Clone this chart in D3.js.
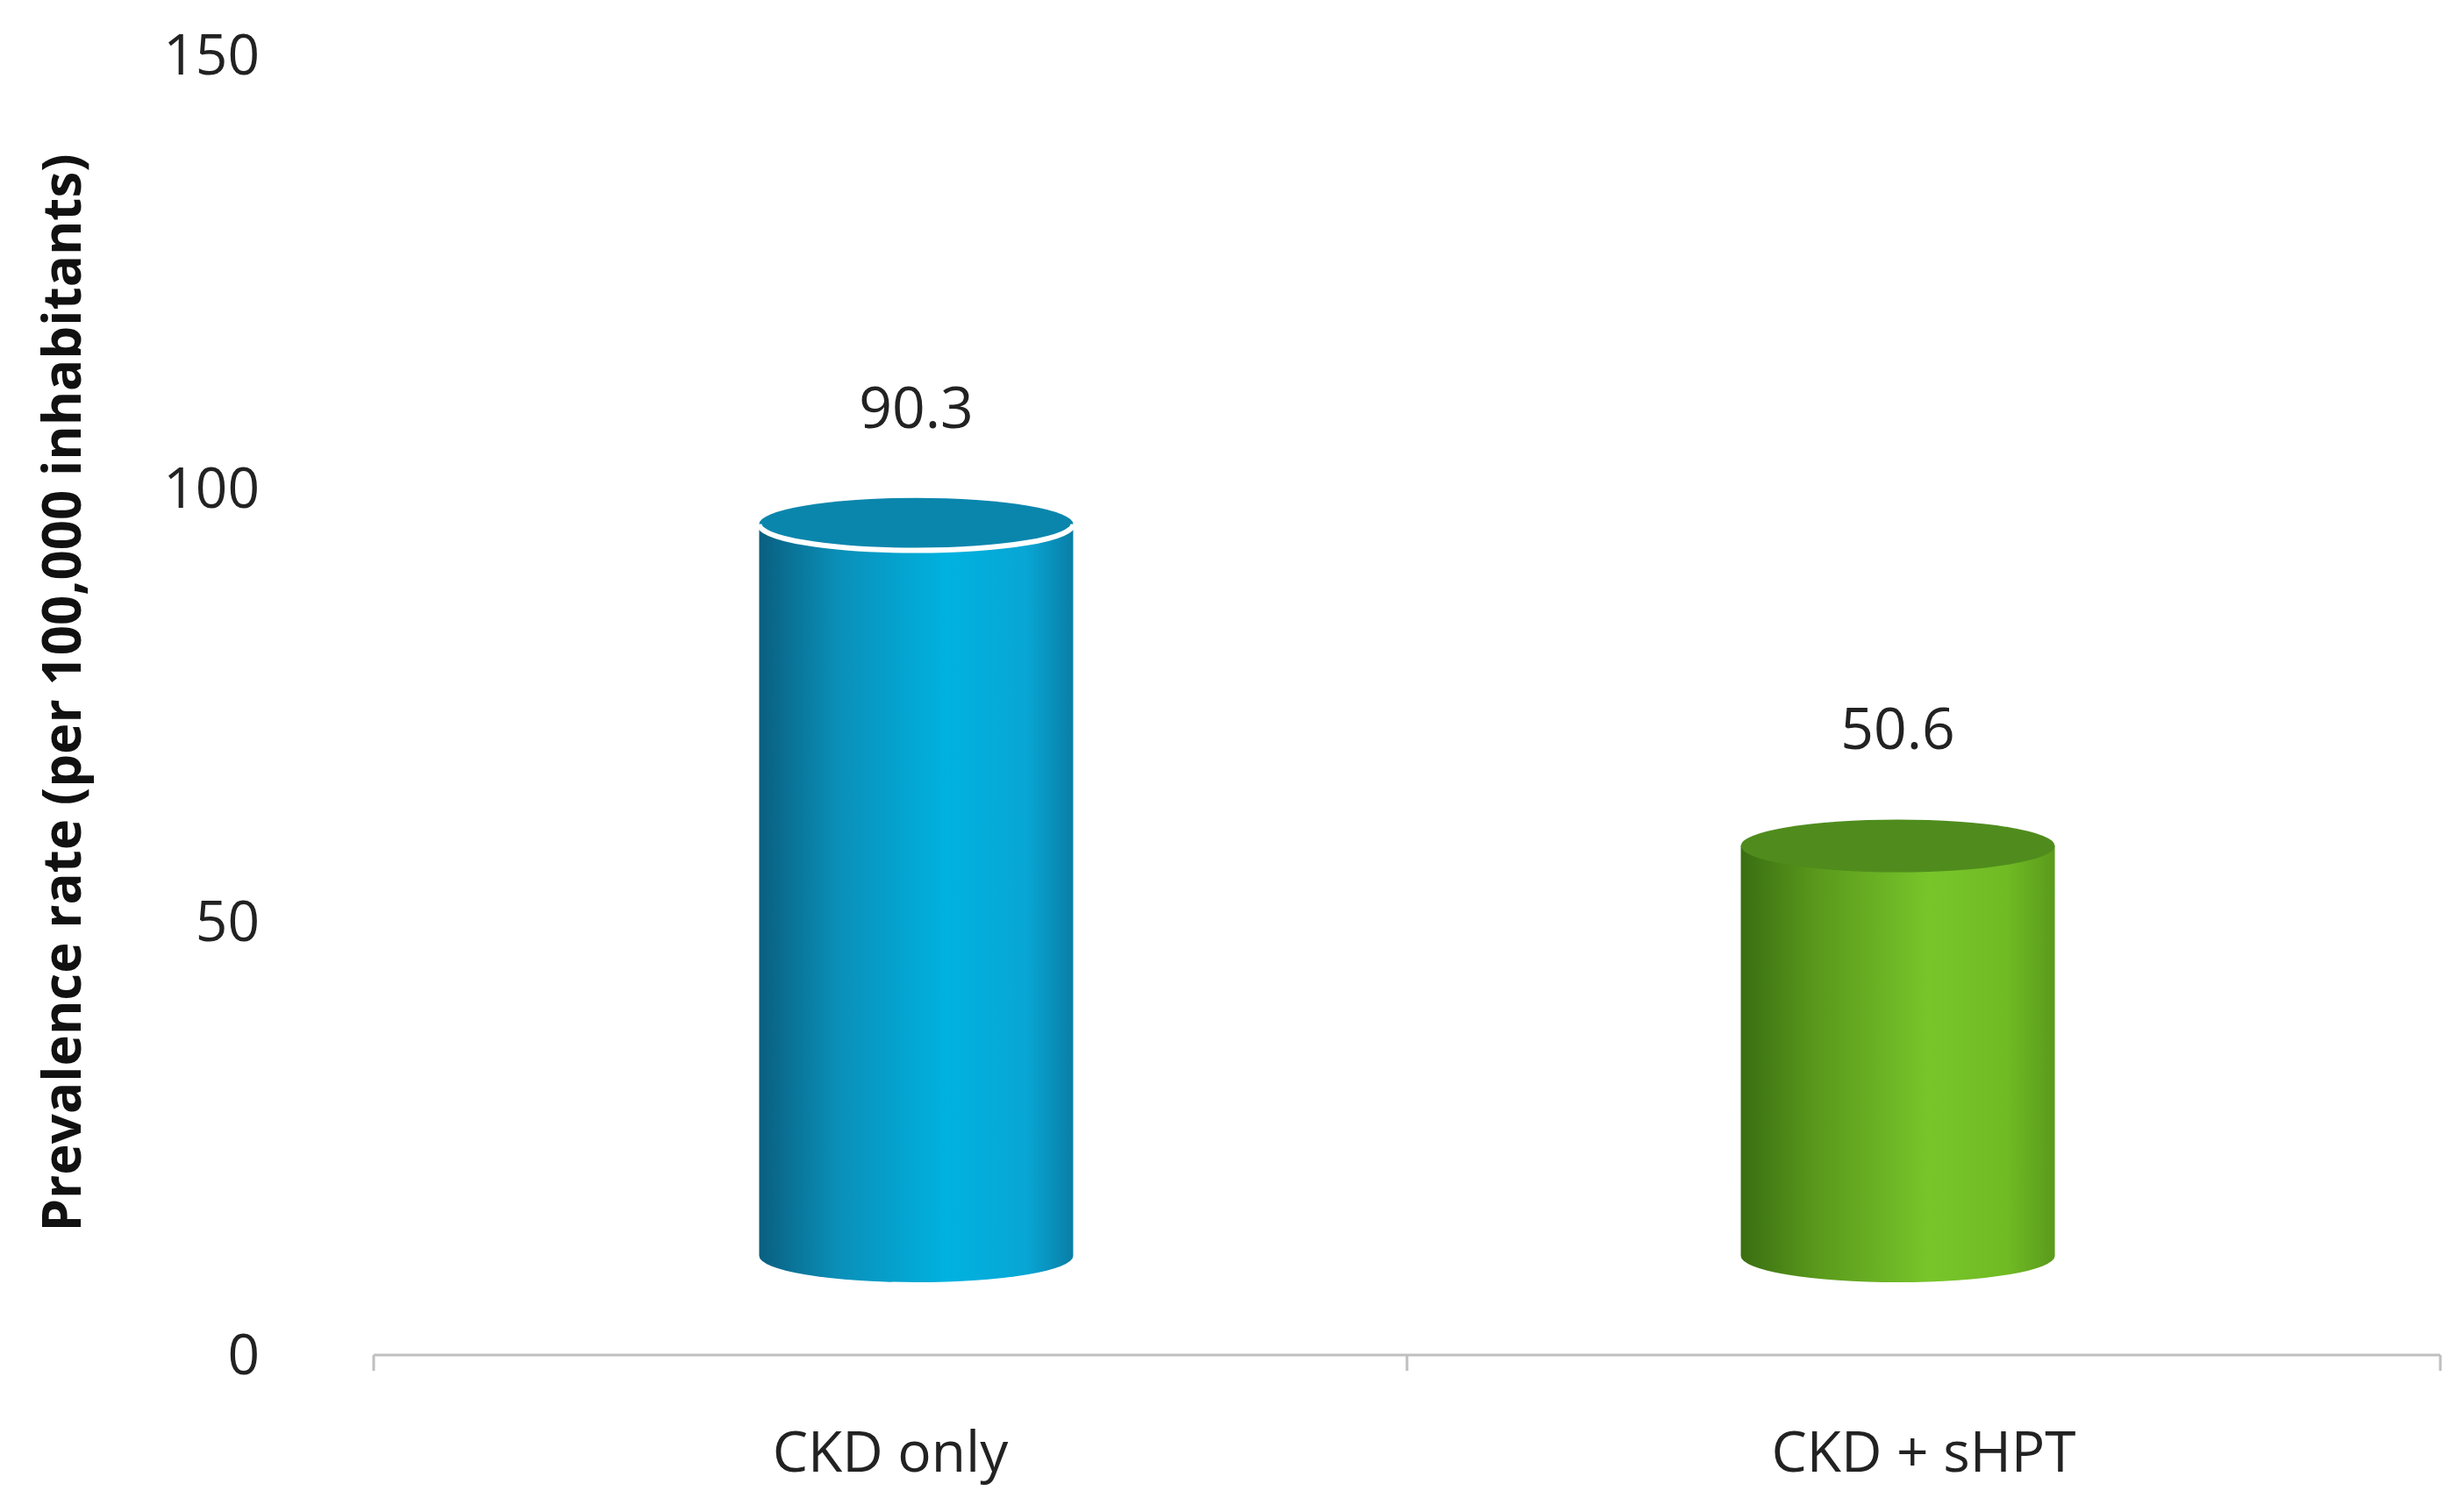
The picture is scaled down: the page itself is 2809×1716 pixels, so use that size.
<!DOCTYPE html>
<html><head><meta charset="utf-8">
<script src="https://cdn.jsdelivr.net/npm/d3@7"></script>
<style>body{margin:0;background:#fff}text{font-family:"Open Sans","Noto Sans",sans-serif}</style>
</head><body>
<svg id="c" width="2809" height="1716"></svg>
<script>
const categories = ["CKD only", "CKD + sHPT"];
const values = [90.3, 50.6];
const labels = ["90.3", "50.6"];
const yTicks = [0, 50, 100, 150];
const sideColors = [["#0a5f80","#0a8fb8","#00b2e0","#08a6d4","#0a7ea6"],["#3a6e12","#5a9a1c","#78c52a","#70ba24","#5a9a1c"]];
const topColors = ["#0a86ad","#4f8c1d"];

const svg = d3.select("#c");
const x = d3.scaleBand().domain(categories).range([426, 2782]);
const y = d3.scaleLinear().domain([0,150]).range([1545, 63]);
// perspective scale for cylinder heights
const yc = d3.scaleLinear().domain([0,150]).range([1432, 1432-150*9.24]);

svg.append("line").attr("x1",426).attr("x2",2782).attr("y1",1545).attr("y2",1545).attr("stroke","#bfbfbf").attr("stroke-width",3);
[426,1604,2782].forEach(t=>svg.append("line").attr("x1",t).attr("x2",t).attr("y1",1545).attr("y2",1563).attr("stroke","#bfbfbf").attr("stroke-width",3));

svg.selectAll(".yt").data(yTicks).enter().append("text")
  .attr("x",296).attr("y",d=>y(d)+22).attr("text-anchor","end")
  .attr("font-size",64).attr("fill","#222").text(d=>d);

svg.append("text").attr("transform","translate(92,790) rotate(-90)").attr("text-anchor","middle")
  .attr("font-size",60).attr("font-weight","bold").attr("fill","#111")
  .text("Prevalence rate (per 100,000 inhabitants)");

svg.selectAll(".xt").data(categories).enter().append("text")
  .attr("x",(d)=>x(d)+x.bandwidth()/2).attr("y",1678).attr("text-anchor","middle")
  .attr("font-size",64).attr("fill","#222").text(d=>d);

const defs = svg.append("defs");
sideColors.forEach((cs,i)=>{
  const g = defs.append("linearGradient").attr("id","g"+i).attr("x1","0").attr("x2","1").attr("y1","0").attr("y2","0");
  cs.forEach((c,j)=>g.append("stop").attr("offset",[0,0.25,0.6,0.85,1][j]).attr("stop-color",c));
});

const W = 358, RY = 30;
categories.forEach((c,i)=>{
  const bc = x(c)+x.bandwidth()/2;
  const cx = bc + (1604-bc)*0.05;
  const top = yc(values[i]), bot = yc(0);
  const l = cx-W/2, r = cx+W/2;
  svg.append("path").attr("d",`M${l},${top} L${l},${bot} A${W/2},${RY} 0 0 0 ${r},${bot} L${r},${top} Z`).attr("fill","url(#g"+i+")");
  svg.append("ellipse").attr("cx",cx).attr("cy",top).attr("rx",W/2).attr("ry",RY).attr("fill",topColors[i]);
  if(i===0) svg.append("path").attr("d",`M${l},${top} A${W/2},${RY} 0 0 0 ${r},${top}`).attr("fill","none").attr("stroke","#fff").attr("stroke-width",6);
  svg.append("text").attr("x",cx).attr("y",top-110).attr("text-anchor","middle").attr("font-size",66).attr("fill","#222").text(labels[i]);
});
</script>
</body></html>
